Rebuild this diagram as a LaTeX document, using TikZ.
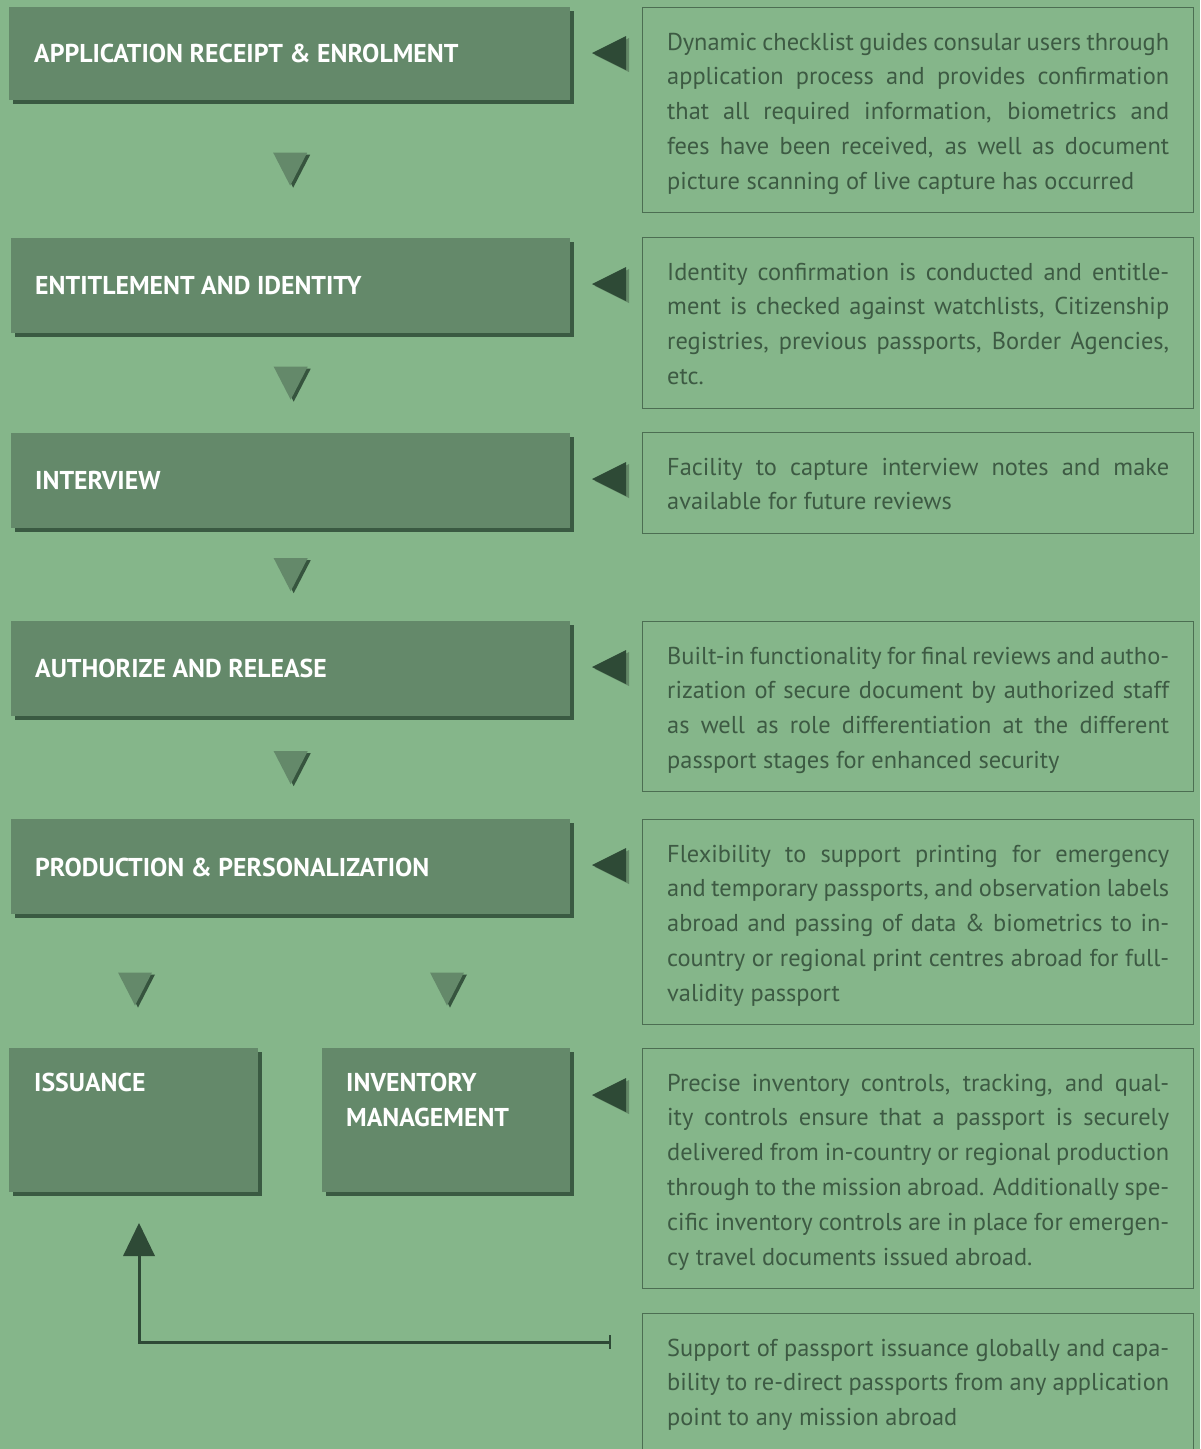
\documentclass[tikz,border=0pt]{standalone}
\usepackage{fontspec}
\newfontfamily\bodyf{PT Sans}
\usetikzlibrary{shadows,calc}
\definecolor{bgc}{HTML}{85B68A}
\definecolor{boxc}{HTML}{64896A}
\definecolor{darkc}{HTML}{2E4A36}
\definecolor{txtc}{HTML}{3D5A43}
\definecolor{linec}{HTML}{4C6E52}
\newcommand{\dtext}[1]{\parbox[t]{502pt}{\tolerance=10000\hbadness=10000\hyphenpenalty=10000\exhyphenpenalty=10000 #1}}
\tikzset{
  stepbox/.style={fill=boxc, draw=none, anchor=north west, inner sep=0pt,
    drop shadow={shadow xshift=4pt, shadow yshift=-4pt, fill=darkc, opacity=0.85}},
  steplabel/.style={anchor=base west, inner sep=0pt, text=white,
    font=\bodyf\bfseries\fontsize{25.8}{35}\selectfont},
  descbox/.style={draw=linec, line width=1.2pt, anchor=north west, inner sep=0pt, minimum width=551pt},
  desctext/.style={anchor=base west, inner sep=0pt, text=txtc,
    font=\bodyf\fontsize{24.4}{34.8}\selectfont},
  tri/.style={fill=boxc, drop shadow={shadow xshift=3pt, shadow yshift=-2pt, fill=darkc, opacity=0.9}},
  ltri/.style={fill=darkc, drop shadow={shadow xshift=3pt, shadow yshift=-2pt, fill=black, opacity=0.25}},
  downtri/.pic={\fill[tri] (-17,-16.5) -- (17,-16.5) -- (0,16.5) -- cycle;},
  lefttri/.pic={\fill[ltri] (17,-17) -- (17,17) -- (-17,0) -- cycle;},
}
\begin{document}
\begin{tikzpicture}[x=1pt,y=-1pt]
\fill[bgc] (0,0) rectangle (1200,1449);
\useasboundingbox (0,0) rectangle (1200,1449);

% step boxes
\node[stepbox, minimum width=561pt, minimum height=93pt] (b1) at (9,7) {};
\node[stepbox, minimum width=559pt, minimum height=95pt] (b2) at (11,238) {};
\node[stepbox, minimum width=559pt, minimum height=95pt] (b3) at (11,433) {};
\node[stepbox, minimum width=559pt, minimum height=95pt] (b4) at (11,621) {};
\node[stepbox, minimum width=559pt, minimum height=95pt] (b5) at (11,819) {};
\node[stepbox, minimum width=249pt, minimum height=144pt] (iss) at (9,1048) {};
\node[stepbox, minimum width=248pt, minimum height=144pt] (inv) at (322,1048) {};

\node[steplabel] (t1) at (34,62) {APPLICATION RECEIPT \& ENROLMENT};
\node[steplabel] (t2) at (35,294) {ENTITLEMENT AND IDENTITY};
\node[steplabel] (t3) at (35,489) {INTERVIEW};
\node[steplabel] (t4) at (35,677) {AUTHORIZE AND RELEASE};
\node[steplabel] (t5) at (35,876) {PRODUCTION \& PERSONALIZATION};
\node[steplabel] (t6) at (34,1091) {ISSUANCE};
\node[steplabel] (t7) at (346,1091) {\parbox[t]{220pt}{\raggedright INVENTORY\\MANAGEMENT}};

% down triangles
\pic at ($(b1.south)!0.5!(b2.north)$) {downtri};
\pic at ($(b2.south)!0.5!(b3.north)$) {downtri};
\pic at ($(b3.south)!0.5!(b4.north)$) {downtri};
\pic at ($(b4.south)!0.5!(b5.north)$) {downtri};
\pic at (135,989) {downtri};
\pic at (447,989) {downtri};

% description boxes
\node[descbox, minimum height=205pt] (d1) at (642,7) {};
\node[descbox, minimum height=171pt] (d2) at (642,237) {};
\node[descbox, minimum height=101pt] (d3) at (642,432) {};
\node[descbox, minimum height=170pt] (d4) at (642,621) {};
\node[descbox, minimum height=205pt] (d5) at (642,819) {};
\node[descbox, minimum height=240pt] (d6) at (642,1048) {};
\node[descbox, minimum height=150pt] (d7) at (642,1313) {};

\node[desctext] (x1) at (667,50) {\dtext{Dynamic checklist guides consular users through\linebreak application process and provides confirmation\linebreak that all required information, biometrics and\linebreak fees have been received, as well as document\linebreak picture scanning of live capture has occurred}};
\node[desctext] (x2) at (667,280) {\dtext{Identity confirmation is conducted and entitle-\linebreak ment is checked against watchlists, Citizenship\linebreak registries, previous passports, Border Agencies,\linebreak etc.}};
\node[desctext] (x3) at (667,475) {\dtext{Facility to capture interview notes and make\linebreak available for future reviews}};
\node[desctext] (x4) at (667,664) {\dtext{Built-in functionality for final reviews and autho-\linebreak rization of secure document by authorized staff\linebreak as well as role differentiation at the different\linebreak passport stages for enhanced security}};
\node[desctext] (x5) at (667,862) {\dtext{Flexibility to support printing for emergency\linebreak and temporary passports, and observation labels\linebreak abroad and passing of data \& biometrics to in-\linebreak country or regional print centres abroad for full-\linebreak validity passport}};
\node[desctext] (x6) at (667,1091) {\dtext{Precise inventory controls, tracking, and qual-\linebreak ity controls ensure that a passport is securely\linebreak delivered from in-country or regional production\linebreak through to the mission abroad. Additionally spe-\linebreak cific inventory controls are in place for emergen-\linebreak cy travel documents issued abroad.}};
\node[desctext] (x7) at (667,1356) {\dtext{Support of passport issuance globally and capa-\linebreak bility to re-direct passports from any application\linebreak point to any mission abroad}};

% left-pointing triangles
\pic at (609,53) {lefttri};
\pic at (609,284) {lefttri};
\pic at (609,479) {lefttri};
\pic at (609,667) {lefttri};
\pic at (609,865) {lefttri};
\pic at (609,1095) {lefttri};

% feedback connector
\coordinate (fbend) at (610,1342);
\coordinate (fbtip) at (139,1223);
\coordinate (fbbase) at (139,1255);
\draw[darkc, line width=3pt] (fbend) -| (fbbase);
\draw[darkc, line width=2.2pt] ($(fbend)+(0,-7)$) -- ($(fbend)+(0,7)$);
\fill[darkc] (fbtip) -- ($(fbbase)+(16,1)$) -- ($(fbbase)+(-16,1)$) -- cycle;
\end{tikzpicture}
\end{document}
